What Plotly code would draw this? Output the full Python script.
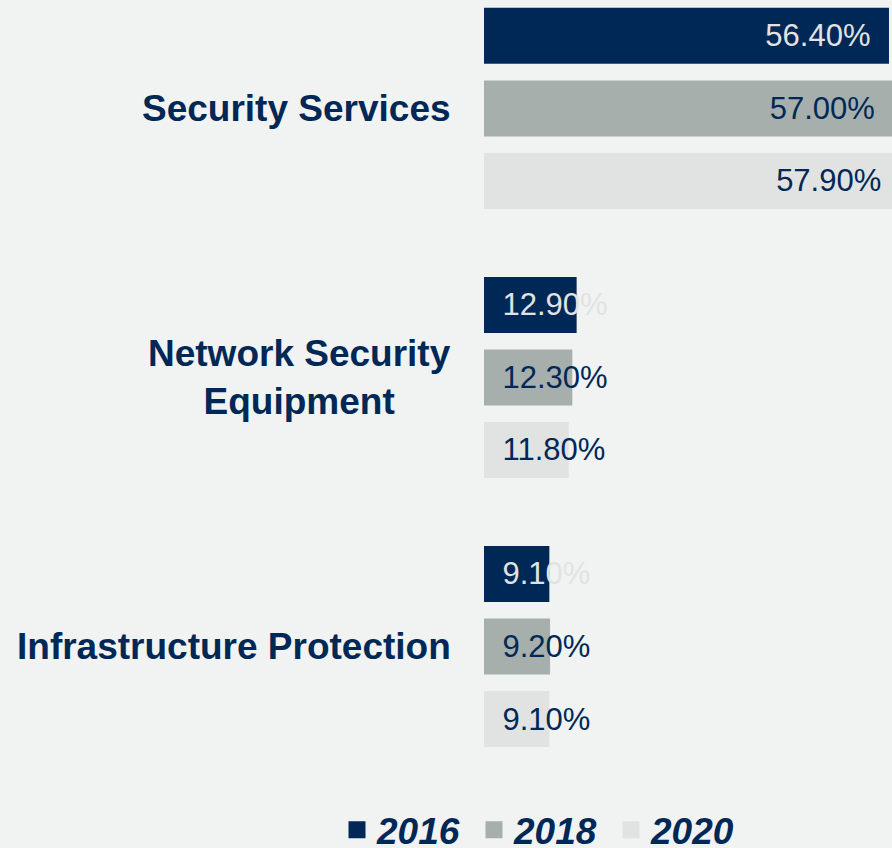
import plotly.graph_objects as go

years = ["2016", "2018", "2020"]
categories = ["Security Services", "Network Security<br>Equipment", "Infrastructure Protection"]
v2016 = [56.4, 12.9, 9.1]
v2018 = [57.0, 12.3, 9.2]
v2020 = [57.9, 11.8, 9.1]
series = [v2016, v2018, v2020]

bar_colors = ["#002856", "#a7afad", "#e1e3e2"]
text_colors = ["#e1e3e2", "#002856", "#002856"]
NAVY = "#002856"
BG = "#f1f2f2"
FONT = "Arial, Liberation Sans, sans-serif"

fig = go.Figure()
for yr, vals, bc, tc in zip(years, series, bar_colors, text_colors):
    big = [i for i, v in enumerate(vals) if v >= 20]
    small = [i for i, v in enumerate(vals) if v < 20]
    for idx, anchor, tmpl in ((big, "end", "%{x:.2f}%\u2002"), (small, "start", "\u2002%{x:.2f}%")):
        fig.add_trace(go.Bar(
            x=[vals[i] for i in idx], y=[categories[i] for i in idx],
            orientation="h", offsetgroup=yr, legendgroup=yr, showlegend=False,
            marker=dict(color=bc, line=dict(width=0)),
            texttemplate=tmpl, textposition="inside", insidetextanchor=anchor,
            constraintext="none",
            insidetextfont=dict(family=FONT, size=31, color=tc),
            hoverinfo="skip",
        ))
    # legend entry
    fig.add_trace(go.Bar(
        x=[None], y=[None], orientation="h", offsetgroup=yr, legendgroup=yr,
        name=yr, showlegend=True,
        marker=dict(color=bc, line=dict(color=bc, width=6)),
    ))

for c in categories:
    fig.add_annotation(
        x=0, xref="paper", y=c, yref="y", text=c, showarrow=False,
        xanchor="right", yanchor="middle", align="center", xshift=-31,
        font=dict(family=FONT, size=37, color=NAVY, weight="bold"),
    )

fig.update_layout(
    width=892, height=848,
    margin=dict(l=484, r=0, t=0, b=88),
    paper_bgcolor=BG, plot_bgcolor=BG,
    barmode="group", bargap=0.191, bargroupgap=0.228,
    xaxis=dict(range=[0, 56.82], visible=False),
    yaxis=dict(type="category", categoryorder="array", categoryarray=categories,
               range=[2.422, -0.403], visible=False),
    showlegend=True,
    legend=dict(orientation="h", xref="container", yref="container",
                x=337 / 892, xanchor="left", y=0.021, yanchor="middle",
                entrywidth=92, entrywidthmode="pixels",
                traceorder="normal", bgcolor="rgba(0,0,0,0)",
                font=dict(family=FONT, size=37, color=NAVY, weight="bold", style="italic")),
)
fig.write_html("out.html", config={"displayModeBar": False},
               post_script="document.body.style.margin='0';document.body.style.background='%s';" % BG)
